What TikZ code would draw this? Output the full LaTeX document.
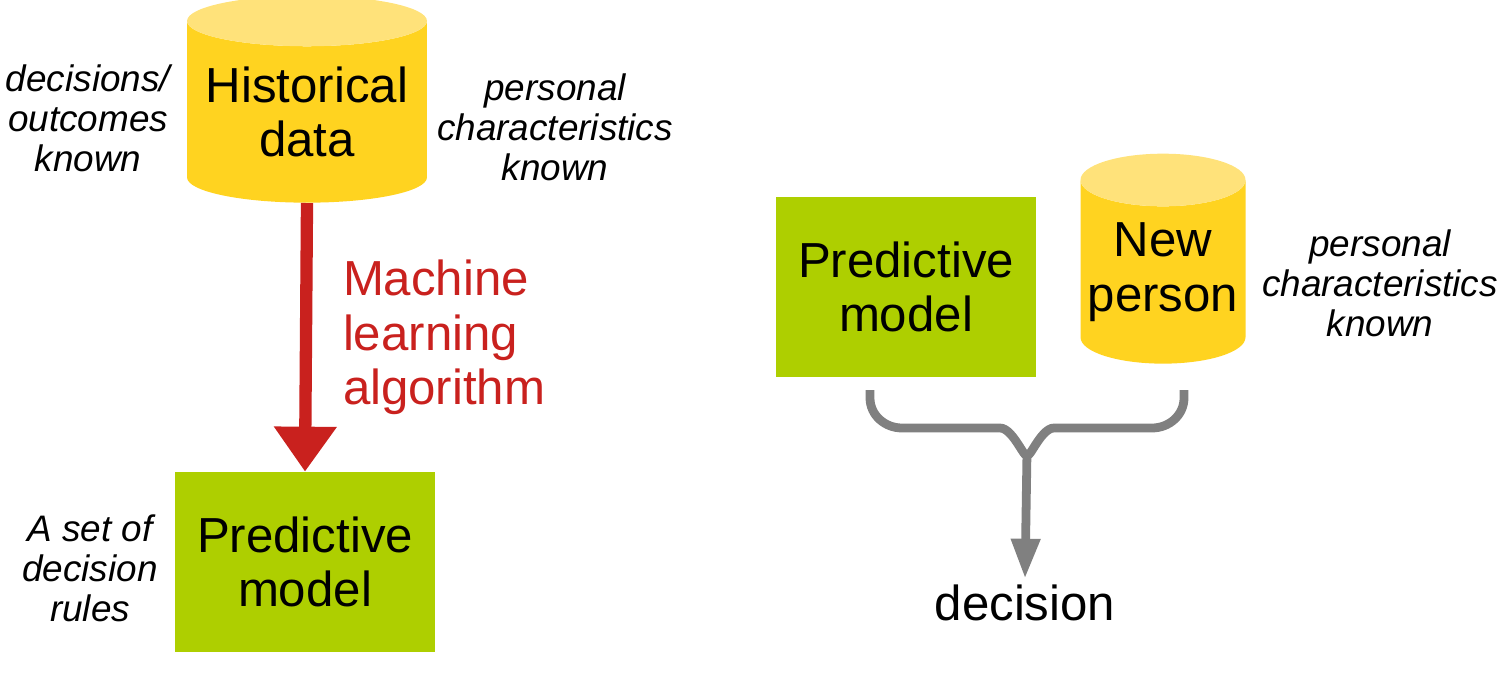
\documentclass[tikz,border=0pt]{standalone}
\usepackage{fontspec}
\setmainfont{Liberation Sans}
\usetikzlibrary{arrows.meta,positioning,shapes.geometric}
\definecolor{dbgold}{HTML}{FFD320}
\definecolor{dbtop}{HTML}{FFE27A}
\definecolor{modelgreen}{HTML}{AECF00}
\definecolor{learnred}{HTML}{C9211E}
\definecolor{flowgray}{HTML}{808080}
\begin{document}
\begin{tikzpicture}[x=0.02cm,y=-0.02cm,
    big/.style={font=\fontsize{28}{31}\selectfont, align=center},
    note/.style={font=\fontsize{21}{22.7}\selectfont\itshape, align=center},
    model/.style={big, fill=modelgreen, minimum width=5.2cm, minimum height=3.6cm, inner sep=0pt},
    db/.style={big, cylinder, shape border rotate=90, draw=none, cylinder uses custom fill,
        cylinder body fill=dbgold, cylinder end fill=dbtop, inner sep=0pt}]
\useasboundingbox (0,0) rectangle (1500,675);

% learning
\node[db, minimum width=4.8cm, minimum height=4.14cm, aspect=0.25] (hist) at (307,112) {Historical\\data};
\node[note] (outcomes) at (88,118) {decisions/\\outcomes\\known};
\node[note] (chars) at (555,127) {personal\\characteristics\\known};
\node[model] (model) at (305,562) {Predictive\\model};
\node[note] (rules) at (90,568) {A set of\\decision\\rules};
\draw[learnred, line width=7pt, -{Triangle[length=0.9cm,width=1.2cm]}] (hist.bottom) -- node[big, right=0.5cm, align=left] {Machine\\learning\\algorithm} (model.north);

% using
\node[model] (model2) at (906,287) {Predictive\\model};
\node[db, minimum width=3.3cm, minimum height=4.2cm, aspect=0.35] (person) at (1163,272) {New\\person};
\node[note] (chars2) at (1380,283) {personal\\characteristics\\known};
\node[big] (decision) at (1025,603) {decision};
\coordinate (bl) at (870,390);
\coordinate (br) at (1184,390);
\coordinate (mid) at (1027,452);
\draw[flowgray, line width=5pt] (bl) -- (870,398) to[out=-90,in=180] (902,428) -- (1000,428) to[out=0,in=-90] (mid)
    to[out=-90,in=180] (1054,428) -- (1152,428) to[out=0,in=-90] (1184,398) -- (br);
\draw[flowgray, line width=5pt, -{Triangle[length=0.8cm,width=0.55cm]}] (mid) -- (decision.north);
\end{tikzpicture}
\end{document}
